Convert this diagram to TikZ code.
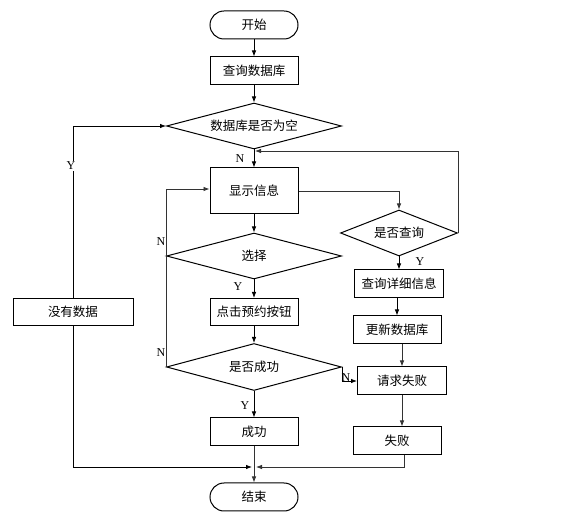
\documentclass[tikz,border=0pt]{standalone}
\usepackage{fontspec}
\setmainfont{Liberation Serif}
\newfontfamily\cjk{Noto Sans CJK SC}
\usetikzlibrary{shapes.geometric,arrows.meta}
\begin{document}
\begin{tikzpicture}[x=1pt,y=-1pt,
  box/.style={draw,line width=1pt,minimum width=88pt,minimum height=28pt,inner sep=0pt,font=\cjk\fontsize{12.5}{12.5}\selectfont},
  term/.style={box,rounded corners=14pt},
  dec/.style={draw,line width=1pt,diamond,aspect=3.8,inner sep=0pt,minimum width=175pt,minimum height=46pt,font=\cjk\fontsize{12.5}{12.5}\selectfont},
  arr/.style={line width=0.8pt,-{Latex[length=6pt,width=4.5pt]}},
  garr/.style={arr,draw=black!80},
  lab/.style={font=\fontsize{12}{12}\selectfont,inner sep=1pt}]
\useasboundingbox (0,0) rectangle (571,521);
\node[term] (start) at (254,25) {开始};
\node[box] (q) at (254,71) {查询数据库};
\node[dec] (d1) at (254,126) {数据库是否为空};
\node[box,minimum height=46pt] (show) at (254,191) {显示信息};
\node[dec] (d2) at (254,256) {选择};
\node[box,minimum height=27pt] (click) at (254,312) {点击预约按钮};
\node[dec,minimum height=47pt] (d3) at (254,367) {是否成功};
\node[box] (succ) at (254,432) {成功};
\node[term] (end) at (254,497) {结束};
\node[box,minimum width=120pt,minimum height=27pt] (nodata) at (73,312) {没有数据};
\node[dec,minimum width=117pt,minimum height=46pt] (dq) at (399,233) {是否查询};
\node[box,minimum width=89pt] (detail) at (399,284) {查询详细信息};
\node[box] (upd) at (397,330) {更新数据库};
\node[box,minimum width=89pt] (reqf) at (402,381) {请求失败};
\node[box] (fail) at (397,441) {失败};
\coordinate (j1) at (254,151);
\coordinate (j2) at (254,467);

\draw[arr] (start) -- (q);
\draw[arr] (q) -- (d1);
\draw[arr] (d1) -- (show);
\node[lab] at (240,159) {N};
\draw[garr] (dq.east) |- ([xshift=1pt]j1);
\draw[garr] (show.east) -| (dq.north);
\draw[arr] (show) -- (d2);
\draw[arr] (d2) -- (click);
\node[lab] at (238,287) {Y};
\draw[garr] (d3.west) |- ([yshift=2pt]show.west);
\node[lab] at (161,242) {N};
\node[lab] at (161,353) {N};
\draw[arr] (click) -- (d3);
\draw[arr] (d3) -- (succ);
\node[lab] at (245,406) {Y};
\draw[arr] (d3.east) |- (reqf.west);
\node[lab] at (346,378) {N};
\draw[arr] (dq) -- (detail);
\node[lab,fill=white] at (420,262) {Y};
\draw[arr] (detail.south -| upd.south) -- (upd);
\draw[garr] (upd.south -| reqf.south) -- (reqf);
\draw[garr] (reqf.south) -- (reqf.south |- fail.north);
\draw[garr] ([xshift=7pt]fail.south) |- ([xshift=2pt]j2);
\draw[arr] (nodata.south) |- ([xshift=-2pt]j2);
\draw[arr] (nodata.north) |- (d1.west);
\node[lab,fill=white] at (71,166) {Y};
\draw[garr] (succ) -- (end);
\end{tikzpicture}
\end{document}
